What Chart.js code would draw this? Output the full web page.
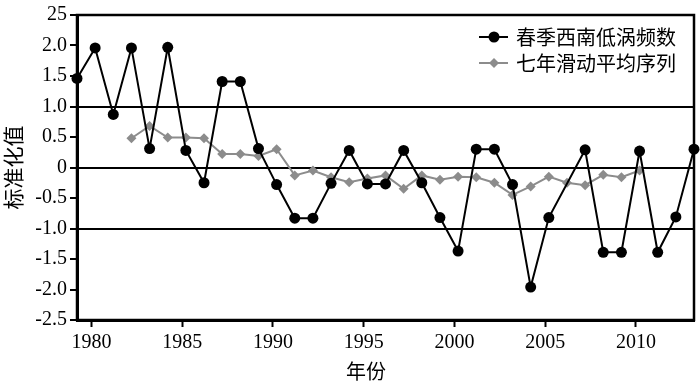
<!DOCTYPE html>
<html>
<head>
<meta charset="utf-8">
<script src="https://cdn.jsdelivr.net/npm/chart.js@4/dist/chart.umd.min.js"></script>
<style>
  html, body { margin: 0; padding: 0; background: #fff; }
  #wrap { width: 700px; height: 386px; position: relative; }
</style>
</head>
<body>
<div id="wrap"><canvas id="vortexChart"></canvas></div>
<script>
// data
const years = [1979, 1980, 1981, 1982, 1983, 1984, 1985, 1986, 1987, 1988,
  1989, 1990, 1991, 1992, 1993, 1994, 1995, 1996, 1997, 1998,
  1999, 2000, 2001, 2002, 2003, 2004, 2005, 2006, 2007, 2008,
  2009, 2010, 2011, 2012, 2013];
const springVortex = [1.46, 1.96, 0.87, 1.96, 0.31, 1.97, 0.28, -0.25, 1.41, 1.41,
  0.31, -0.28, -0.83, -0.83, -0.26, 0.28, -0.27, -0.27, 0.28, -0.25,
  -0.82, -1.37, 0.30, 0.30, -0.28, -1.96, -0.82, null, 0.29, -1.39,
  -1.39, 0.27, -1.39, -0.81, 0.30];
const runYears = [1982, 1983, 1984, 1985, 1986, 1987, 1988, 1989, 1990, 1991,
  1992, 1993, 1994, 1995, 1996, 1997, 1998, 1999, 2000, 2001,
  2002, 2003, 2004, 2005, 2006, 2007, 2008, 2009, 2010];
const runMean7 = [0.48, 0.68, 0.49, 0.49, 0.48, 0.22, 0.22, 0.19, 0.30, -0.13,
  -0.05, -0.16, -0.24, -0.18, -0.13, -0.35, -0.13, -0.20, -0.15, -0.16,
  -0.25, -0.45, -0.31, -0.15, -0.25, -0.29, -0.12, -0.16, -0.05];

const seriesNames = ["春季西南低涡频数", "七年滑动平均序列"];
const xTickYears = [1980, 1985, 1990, 1995, 2000, 2005, 2010];
const yTickValues = [2.5, 2.0, 1.5, 1.0, 0.5, 0, -0.5, -1.0, -1.5, -2.0, -2.5];
const yTickLabels = ["25", "2.0", "1.5", "1.0", "0.5", "0", "-0.5", "-1.0", "-1.5", "-2.0", "-2.5"];
const refLines = [1.0, 0, -1.0];
const xTitle = "年份";
const yTitle = "标准化值";

const GRAY = '#8c8c8c';
const serif = "'Liberation Serif', 'Times New Roman', serif";
const cjk = "'Noto Sans CJK SC', sans-serif";

// frame, legend and x title drawn on top of the plot
const extras = {
  id: 'extras',
  afterDraw(chart) {
    const { ctx, chartArea: a } = chart;
    ctx.save();
    ctx.strokeStyle = '#000';
    ctx.lineWidth = 2.5;
    ctx.strokeRect(a.left, a.top, a.right - a.left, a.bottom - a.top);

    // legend
    const styles = [
      { color: '#000', shape: 'circle', r: 5.5 },
      { color: GRAY, shape: 'diamond', r: 5 }
    ];
    ctx.font = "20px " + cjk;
    ctx.textBaseline = 'middle';
    seriesNames.forEach((name, i) => {
      const y = 37 + i * 26;
      const x0 = 479, x1 = 508, cx = 494;
      ctx.strokeStyle = styles[i].color;
      ctx.fillStyle = styles[i].color;
      ctx.lineWidth = 2;
      ctx.beginPath(); ctx.moveTo(x0, y); ctx.lineTo(x1, y); ctx.stroke();
      ctx.beginPath();
      if (styles[i].shape === 'circle') {
        ctx.arc(cx, y, styles[i].r, 0, Math.PI * 2);
      } else {
        const r = styles[i].r;
        ctx.moveTo(cx, y - r); ctx.lineTo(cx + r, y); ctx.lineTo(cx, y + r); ctx.lineTo(cx - r, y);
        ctx.closePath();
      }
      ctx.fill();
      ctx.fillStyle = '#000';
      ctx.textAlign = 'left';
      ctx.fillText(name, 516, y);
    });

    // x title
    ctx.font = "20px " + cjk;
    ctx.textAlign = 'center';
    ctx.fillStyle = '#000';
    ctx.fillText(xTitle, 366, 371);
    ctx.restore();
  }
};

const ctx = document.getElementById('vortexChart').getContext('2d');
const vortexChart = new Chart(ctx, {
  type: 'line',
  data: {
    datasets: [{
      label: seriesNames[0],
      data: years.map((yr, i) => ({ x: yr, y: springVortex[i] })),
      borderColor: '#000',
      backgroundColor: '#000',
      borderWidth: 2,
      pointRadius: 5.5,
      pointStyle: 'circle',
      pointBorderWidth: 0,
      spanGaps: true,
      clip: false,
      tension: 0
    }, {
      label: seriesNames[1],
      data: runYears.map((yr, i) => ({ x: yr, y: runMean7[i] })),
      borderColor: GRAY,
      backgroundColor: GRAY,
      borderWidth: 2,
      pointRadius: 5,
      pointStyle: 'rectRot',
      pointBorderWidth: 0,
      clip: false,
      tension: 0
    }]
  },
  options: {
    responsive: true,
    maintainAspectRatio: false,
    animation: false,
    layout: { padding: { top: 12, right: 6, left: 0, bottom: 0 } },
    plugins: {
      legend: { display: false },
      tooltip: { enabled: false }
    },
    scales: {
      x: {
        type: 'linear',
        min: 1979,
        max: 2013,
        afterBuildTicks(scale) {
          // tick marks sit a little left of the data years in the original
          scale.ticks = xTickYears.map(v => ({ value: v - 0.2 }));
        },
        afterFit(scale) { scale.height = 66; },
        ticks: {
          autoSkip: false,
          maxRotation: 0,
          padding: 4,
          color: '#000',
          font: { family: serif, size: 20 },
          callback: v => String(Math.round(v))
        },
        grid: {
          drawOnChartArea: false,
          color: '#000',
          tickColor: '#000',
          tickLength: 7,
          tickWidth: 2
        },
        border: { color: '#000', width: 3 }
      },
      y: {
        min: -2.5,
        max: 2.5,
        afterBuildTicks(scale) {
          scale.ticks = yTickValues.map(v => ({ value: v }));
        },
        afterFit(scale) { scale.width = 77; },
        ticks: {
          padding: 3,
          color: '#000',
          font: { family: serif, size: 20 },
          callback: v => yTickLabels[yTickValues.findIndex(t => Math.abs(t - v) < 1e-6)]
        },
        grid: {
          color: c => refLines.some(r => Math.abs(r - c.tick.value) < 1e-6) ? '#000' : 'rgba(0,0,0,0)',
          lineWidth: 2,
          tickColor: '#000',
          tickLength: 7,
          tickWidth: 2
        },
        border: { color: '#000', width: 3 },
        title: {
          display: true,
          text: yTitle,
          color: '#000',
          padding: 0,
          font: { family: cjk, size: 21 }
        }
      }
    }
  },
  plugins: [extras]
});
</script>
</body>
</html>
